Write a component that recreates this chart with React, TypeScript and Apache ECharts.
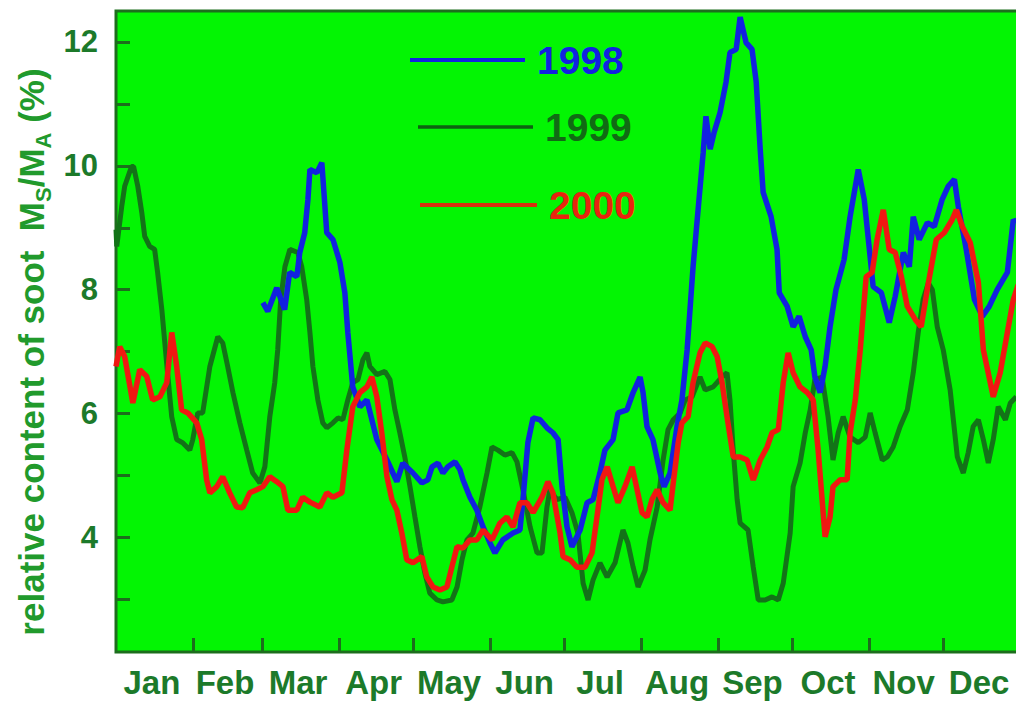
import React, { useEffect, useRef } from "react";
import * as echarts from "echarts";

const monthNames = ["Jan", "Feb", "Mar", "Apr", "May", "Jun", "Jul", "Aug", "Sep", "Oct", "Nov", "Dec"];
const monthStartDays = [31, 59, 90, 120, 151, 181, 212, 243, 273, 304, 334];
const monthLabelDays = [14.5, 44, 73.5, 104, 134.5, 165, 195.5, 226.5, 257, 287.5, 318, 348.5];
const yTickValues = [3, 4, 5, 6, 7, 8, 9, 10, 11, 12];
const yLabelValues = [4, 6, 8, 10, 12];
const seriesNames = ["1998", "1999", "2000"];

const soot1998: [number, number][] = [
  [59.3, 7.79], [61.3, 7.65], [64.9, 8.03], [68.1, 7.68], [70.1, 8.28], [73.0, 8.21], [74.2, 8.6], [76.2, 8.92],
  [77.5, 9.46], [78.3, 9.94], [81.1, 9.89], [83.1, 10.05], [83.5, 9.83], [85.1, 8.92], [87.6, 8.81], [90.4, 8.44],
  [92.4, 7.95], [93.6, 7.31], [95.6, 6.43], [98.5, 6.11], [101.3, 6.22], [105.3, 5.58], [109.4, 5.25], [111.8, 5.04],
  [113.4, 4.9], [115.8, 5.2], [119.9, 5.04], [123.5, 4.88], [125.9, 4.93], [127.6, 5.14], [130.0, 5.2], [132.0, 5.04],
  [134.0, 5.14], [136.9, 5.22], [138.9, 5.09], [140.1, 4.93], [142.9, 4.65], [145.7, 4.44], [148.2, 4.17], [151.0, 3.91],
  [153.0, 3.75], [156.2, 3.96], [160.3, 4.07], [163.1, 4.12], [164.3, 4.61], [166.3, 5.53], [168.4, 5.93], [171.2, 5.9],
  [174.0, 5.77], [176.4, 5.69], [178.5, 5.58], [180.1, 4.82], [182.1, 4.17], [184.1, 3.85], [187.4, 4.12], [190.2, 4.56],
  [192.6, 4.61], [195.4, 5.04], [197.4, 5.41], [200.7, 5.58], [202.7, 6.01], [206.3, 6.06], [208.8, 6.34], [211.6, 6.59],
  [212.8, 6.34], [214.4, 5.79], [216.8, 5.58], [219.7, 5.04], [221.3, 4.82], [223.7, 5.04], [226.5, 5.79], [228.5, 6.22],
  [230.6, 7.03], [233.0, 8.37], [235.4, 9.46], [237.1, 10.22], [238.2, 10.8], [239.9, 10.27], [241.5, 10.54], [243.9, 10.86],
  [246.3, 11.35], [247.9, 11.83], [250.4, 11.88], [252.0, 12.4], [254.4, 11.99], [256.8, 11.88], [258.5, 11.35], [260.1, 10.27],
  [261.3, 9.57], [264.5, 9.18], [266.9, 8.65], [267.8, 7.95], [271.0, 7.73], [273.4, 7.4], [275.8, 7.57], [278.3, 7.24],
  [280.7, 7.03], [282.2, 6.59], [284.3, 6.34], [286.3, 6.76], [288.3, 7.4], [290.7, 8.0], [294.0, 8.49], [296.4, 9.18],
  [299.7, 9.94], [302.1, 9.46], [304.5, 8.53], [305.7, 8.05], [309.0, 7.95], [312.2, 7.47], [314.6, 7.89], [317.9, 8.6],
  [320.3, 8.37], [321.9, 9.18], [324.3, 8.81], [327.6, 9.08], [330.4, 9.02], [333.6, 9.46], [336.0, 9.67], [338.5, 9.78],
  [340.1, 9.34], [343.3, 8.65], [346.6, 7.84], [349.8, 7.57], [352.6, 7.73], [355.8, 8.0], [359.9, 8.28], [362.3, 9.13],
  [363.5, 9.08],
];

const soot1999: [number, number][] = [
  [0, 8.97], [0.3, 8.7], [2.3, 9.34], [3.5, 9.67], [6.3, 9.99], [7.1, 9.99], [8.8, 9.67], [10.4, 9.25],
  [11.6, 8.86], [13.6, 8.7], [15.6, 8.65], [16.8, 8.28], [18.5, 7.68], [20.5, 6.79], [22.5, 5.95], [24.5, 5.58],
  [26.9, 5.53], [29.8, 5.41], [31.0, 5.58], [33.0, 6.01], [35.0, 6.01], [37.9, 6.76], [41.1, 7.24], [43.1, 7.14],
  [45.1, 6.76], [47.2, 6.34], [50.0, 5.85], [52.8, 5.41], [55.2, 5.04], [58.1, 4.88], [60.1, 5.14], [62.1, 5.95],
  [64.1, 6.5], [65.3, 7.03], [66.5, 7.84], [68.2, 8.37], [70.2, 8.65], [73.4, 8.6], [75.0, 8.37], [77.0, 7.84],
  [78.3, 7.31], [79.5, 6.76], [81.5, 6.22], [83.5, 5.85], [85.1, 5.77], [87.6, 5.85], [89.6, 5.93], [91.6, 5.9],
  [93.6, 6.22], [95.6, 6.5], [97.7, 6.55], [99.7, 6.87], [101.3, 6.98], [102.5, 6.76], [105.3, 6.63], [108.6, 6.68],
  [110.6, 6.55], [112.6, 6.06], [114.6, 5.69], [116.6, 5.3], [118.7, 4.82], [120.7, 4.33], [122.7, 3.85], [124.7, 3.43],
  [126.7, 3.1], [129.6, 2.99], [132.0, 2.96], [135.6, 2.99], [137.7, 3.2], [139.7, 3.64], [141.7, 3.96], [144.1, 4.07],
  [146.9, 4.49], [149.8, 5.04], [151.8, 5.46], [154.2, 5.41], [157.0, 5.33], [159.9, 5.37], [161.9, 5.22], [164.3, 4.77],
  [167.2, 4.17], [170.0, 3.75], [172.0, 3.75], [174.0, 4.49], [175.2, 4.77], [178.0, 4.61], [181.3, 4.65], [184.1, 4.4],
  [186.5, 4.07], [188.6, 3.26], [190.6, 2.99], [192.6, 3.31], [195.4, 3.59], [198.3, 3.36], [201.5, 3.59], [204.7, 4.12],
  [206.7, 3.91], [208.8, 3.52], [210.8, 3.2], [213.6, 3.47], [215.6, 3.96], [218.5, 4.49], [220.9, 5.25], [222.9, 5.74],
  [225.0, 5.9], [227.8, 6.01], [229.8, 6.22], [232.6, 6.27], [235.8, 6.59], [237.9, 6.38], [241.1, 6.43], [244.7, 6.59],
  [246.7, 6.66], [247.9, 6.22], [249.2, 5.41], [250.8, 4.61], [252.0, 4.23], [255.2, 4.12], [257.3, 3.52], [259.3, 2.99],
  [262.1, 2.99], [264.9, 3.04], [267.4, 2.99], [269.4, 3.26], [272.2, 4.07], [273.4, 4.82], [276.2, 5.2], [278.3, 5.69],
  [280.3, 6.06], [282.2, 6.55], [285.1, 6.59], [287.5, 5.95], [289.5, 5.25], [291.6, 5.69], [293.6, 5.95], [296.4, 5.62],
  [299.7, 5.53], [302.5, 5.62], [304.5, 6.01], [306.5, 5.69], [309.4, 5.25], [311.4, 5.3], [313.8, 5.46], [316.6, 5.79],
  [319.5, 6.06], [321.9, 6.66], [323.9, 7.31], [325.9, 7.84], [328.0, 8.11], [329.6, 8.0], [331.6, 7.4], [334.0, 7.03],
  [336.8, 6.38], [339.7, 5.3], [342.1, 5.04], [344.1, 5.37], [346.1, 5.79], [348.2, 5.9], [350.2, 5.58], [352.2, 5.2],
  [354.2, 5.58], [356.2, 6.11], [359.1, 5.9], [361.1, 6.17], [363.5, 6.27],
];

const soot2000: [number, number][] = [
  [0, 6.76], [1.5, 7.08], [3.5, 6.92], [6.8, 6.17], [9.6, 6.71], [12.4, 6.6], [14.8, 6.22], [17.7, 6.27],
  [20.5, 6.5], [22.5, 7.31], [24.5, 6.76], [26.5, 6.06], [29.0, 6.01], [32.6, 5.85], [34.6, 5.58], [36.6, 4.93],
  [37.9, 4.72], [40.7, 4.82], [43.1, 4.98], [45.9, 4.72], [48.7, 4.49], [51.2, 4.48], [54.0, 4.72], [56.8, 4.77],
  [59.3, 4.82], [62.1, 4.98], [64.9, 4.9], [67.4, 4.82], [69.4, 4.44], [73.0, 4.44], [75.4, 4.65], [78.3, 4.57],
  [82.3, 4.49], [85.1, 4.72], [87.6, 4.65], [91.2, 4.72], [93.2, 5.41], [95.6, 6.11], [98.5, 6.34], [101.3, 6.43],
  [103.3, 6.59], [105.3, 6.27], [107.3, 5.69], [109.4, 4.98], [111.4, 4.61], [113.4, 4.44], [115.4, 4.07], [117.4, 3.64],
  [119.9, 3.59], [123.5, 3.69], [125.5, 3.36], [128.0, 3.2], [130.8, 3.15], [133.6, 3.2], [135.6, 3.52], [137.7, 3.85],
  [140.1, 3.83], [142.9, 3.96], [145.7, 3.96], [148.2, 4.12], [151.8, 3.96], [155.0, 4.23], [157.8, 4.33], [160.3, 4.17],
  [163.1, 4.56], [165.9, 4.56], [168.4, 4.4], [172.0, 4.65], [174.4, 4.9], [176.4, 4.72], [179.3, 4.07], [180.5, 3.69],
  [183.3, 3.64], [186.1, 3.52], [189.4, 3.52], [192.2, 3.75], [194.2, 4.33], [196.2, 4.93], [198.3, 5.14], [200.7, 4.82],
  [202.7, 4.56], [205.5, 4.82], [208.4, 5.14], [210.4, 4.77], [212.4, 4.4], [214.4, 4.33], [216.4, 4.61], [218.5, 4.77],
  [220.9, 4.56], [223.7, 4.44], [225.0, 4.88], [227.0, 5.53], [228.5, 5.85], [231.0, 5.95], [233.0, 6.5], [235.8, 6.98],
  [237.9, 7.14], [240.7, 7.08], [242.7, 6.92], [244.7, 6.5], [246.7, 5.95], [249.2, 5.3], [252.0, 5.3], [254.8, 5.25],
  [257.3, 4.93], [260.1, 5.25], [262.9, 5.46], [264.9, 5.69], [267.4, 5.74], [269.4, 6.5], [271.4, 6.98], [273.4, 6.66],
  [276.2, 6.43], [279.1, 6.34], [281.5, 6.22], [283.5, 5.41], [285.1, 4.61], [286.3, 4.01], [288.3, 4.33], [289.5, 4.82],
  [292.4, 4.93], [295.2, 4.93], [296.4, 5.69], [298.5, 6.22], [300.5, 7.03], [302.9, 8.21], [305.3, 8.28], [307.3, 8.81],
  [309.8, 9.29], [312.2, 8.65], [314.6, 8.6], [317.1, 8.21], [319.5, 7.73], [322.7, 7.52], [325.1, 7.4], [328.0, 8.11],
  [331.2, 8.81], [334.4, 8.92], [337.6, 9.13], [339.3, 9.29], [341.7, 9.02], [344.9, 8.76], [348.2, 8.11], [350.2, 7.03],
  [353.0, 6.5], [354.2, 6.27], [357.0, 6.66], [359.9, 7.31], [362.3, 7.84], [364.3, 8.08],
];

const FONT = "'Liberation Sans', Arial, Helvetica, sans-serif";
const BLUE = "#1222e0";
const GREEN_LINE = "#137318";
const RED = "#f01812";
const FRAME = "#1d6e1d";
const AXIS_TEXT = "#1c7a2a";
const TITLE_TEXT = "#219a2c";

export default function App() {
  const ref = useRef<HTMLDivElement>(null);

  useEffect(() => {
    if (!ref.current) return;
    const chart = echarts.init(ref.current, undefined, { renderer: "svg" });

    const legendCommon = {
      orient: "horizontal",
      icon: "rect",
      itemWidth: 115,
      itemHeight: 4,
      padding: 0,
      selectedMode: false,
      textStyle: { fontSize: 39, fontWeight: "bold", fontFamily: FONT, lineHeight: 40, padding: [0, 0, 0, 7] },
    };

    chart.setOption({
      animation: false,
      grid: {
        left: 116,
        top: 11,
        width: 904,
        height: 641,
        show: true,
        backgroundColor: "#03f503",
        borderColor: FRAME,
        borderWidth: 3,
        outerBoundsMode: "none",
      },
      xAxis: {
        type: "value",
        min: 0,
        max: 365,
        axisLine: { show: false },
        splitLine: { show: false },
        axisTick: {
          show: true,
          inside: true,
          length: 14,
          customValues: monthStartDays,
          lineStyle: { color: FRAME, width: 3 },
        },
        axisLabel: {
          customValues: monthLabelDays,
          formatter: (v: number) => monthNames[monthLabelDays.indexOf(v)] ?? "",
          fontSize: 33,
          fontWeight: "bold",
          fontFamily: FONT,
          color: AXIS_TEXT,
          margin: 14,
        },
      },
      yAxis: {
        type: "value",
        min: 2.15,
        max: 12.5,
        axisLine: { show: false },
        splitLine: { show: false },
        axisTick: {
          show: true,
          inside: true,
          length: 14,
          customValues: yTickValues,
          lineStyle: { color: FRAME, width: 3 },
        },
        axisLabel: {
          customValues: yLabelValues,
          formatter: (v: number) => String(v),
          fontSize: 31,
          fontWeight: "bold",
          fontFamily: FONT,
          color: AXIS_TEXT,
          margin: 18,
        },
      },
      legend: [
        {
          ...legendCommon,
          left: 410,
          top: 40,
          data: [{ name: seriesNames[0], itemStyle: { color: BLUE }, textStyle: { color: BLUE } }],
        },
        {
          ...legendCommon,
          left: 418,
          top: 107,
          itemHeight: 3.5,
          data: [{ name: seriesNames[1], itemStyle: { color: "#0e6212" }, textStyle: { color: "#116a14" } }],
        },
        {
          ...legendCommon,
          left: 420,
          top: 185,
          itemWidth: 117,
          data: [{ name: seriesNames[2], itemStyle: { color: "#d8300e" }, textStyle: { color: "#e8240e" } }],
        },
      ],
      graphic: [
        {
          type: "text",
          x: 31,
          y: 352,
          rotation: Math.PI / 2,
          style: {
            text: "{n|relative content of soot  M}{s|S}{n|/M}{s|A}{n| (%)}",
            align: "center",
            verticalAlign: "middle",
            rich: {
              n: { fontSize: 35, fontWeight: "bold", fontFamily: FONT, fill: TITLE_TEXT, color: TITLE_TEXT },
              s: {
                fontSize: 22,
                fontWeight: "bold",
                fontFamily: FONT,
                fill: TITLE_TEXT,
                color: TITLE_TEXT,
                padding: [24, 0, 0, 0],
              },
            },
          },
        },
      ],
      series: [
        {
          name: seriesNames[1],
          type: "line",
          data: soot1999,
          showSymbol: false,
          symbol: "none",
          color: GREEN_LINE,
          lineStyle: { width: 5, color: GREEN_LINE },
          z: 2,
        },
        {
          name: seriesNames[0],
          type: "line",
          data: soot1998,
          showSymbol: false,
          symbol: "none",
          color: BLUE,
          lineStyle: { width: 5.5, color: BLUE },
          z: 3,
        },
        {
          name: seriesNames[2],
          type: "line",
          data: soot2000,
          showSymbol: false,
          symbol: "none",
          color: RED,
          lineStyle: { width: 5.5, color: RED },
          z: 4,
        },
      ],
    });

    return () => chart.dispose();
  }, []);

  return (
    <div style={{ position: "fixed", left: 0, top: 0, width: 1016, height: 705, overflow: "hidden", background: "#fff" }}>
      <div ref={ref} style={{ width: 1030, height: 705 }} />
    </div>
  );
}
